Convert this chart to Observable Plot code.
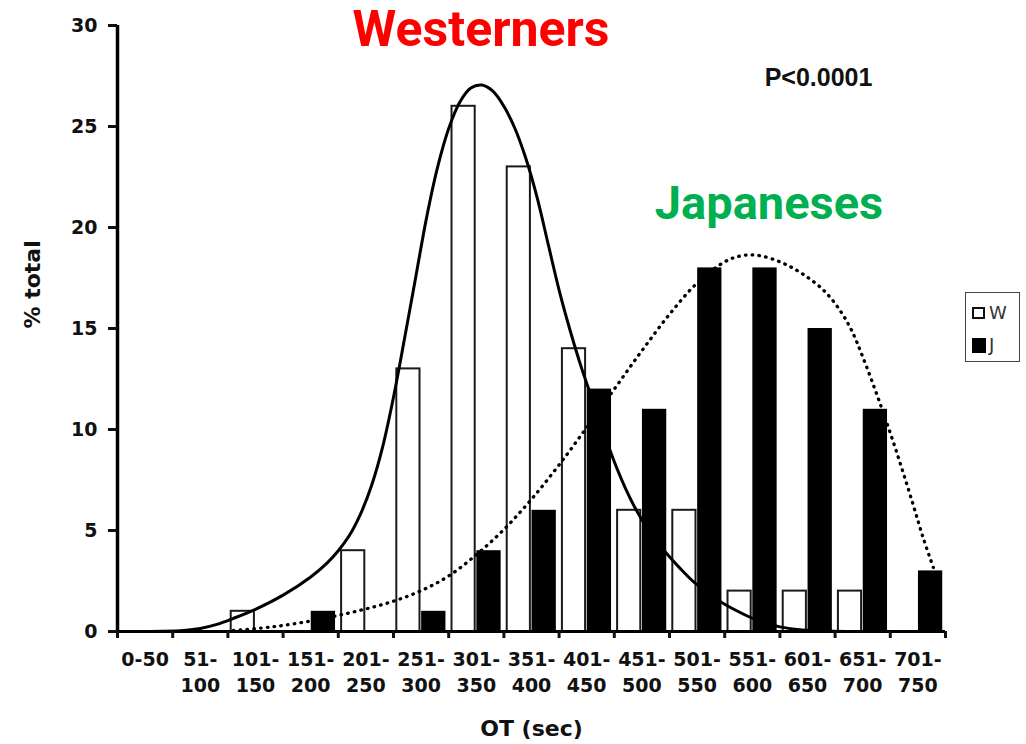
<!DOCTYPE html>
<html>
<head>
<meta charset="utf-8">
<script src="https://cdn.jsdelivr.net/npm/d3@7"></script>
<script src="https://cdn.jsdelivr.net/npm/@observablehq/plot@0.6"></script>
<style>
  html, body { margin: 0; padding: 0; background: #fff; }
  #wrap { position: relative; width: 1026px; height: 744px; }
  #legend { position: absolute; left: 965px; top: 292px; width: 53px; height: 68px;
            border: 1.5px solid #444; font-family: "DejaVu Sans", sans-serif; color: #333; }
  #legend .sw { position: absolute; left: 6px; box-sizing: border-box; }
  #legend .lb { position: absolute; left: 23px; font-size: 18px; line-height: 18px; }
</style>
</head>
<body>
<div id="wrap"></div>
<script>
// ---- data ----
const binLabels = ["0-50","51-100","101-150","151-200","201-250","251-300","301-350","351-400",
                   "401-450","451-500","501-550","551-600","601-650","651-700","701-750"];
const westerners = [0,0,1,0,4,13,26,23,14,6,6,2,2,2,0];
const japaneses  = [0,0,0,1,0,1,4,6,12,11,18,18,15,11,3];

// fitted curves (OT in seconds, % total)
const westCurveSec = [10,40,60,75,90,105,125,150,175,190,200,210,220,230,240,250,260,270,280,290,300,310,320,330,340,350,360,370,380,390,400,410,420,430,440,450,460,470,480,490,500,510,520,530,540,550,560,570,580,590,600,620,640,680];
const westCurvePct = [0,0.01,0.05,0.15,0.35,0.65,1.1,1.8,2.7,3.4,4.0,4.75,5.8,7.2,9.1,11.6,14.5,17.5,20.5,23.0,24.9,26.2,26.9,27.05,26.75,26.0,24.9,23.4,21.5,19.2,16.9,14.9,13.1,11.5,9.9,8.4,7.1,6.0,5.1,4.35,3.7,3.1,2.55,2.1,1.7,1.35,1.05,0.78,0.55,0.37,0.23,0.08,0.03,0];
const japCurveSec = [105,130,150,175,200,225,250,275,300,325,350,375,400,425,450,475,500,525,550,565,580,600,620,640,655,665,675,690,705,720,730,739];
const japCurvePct = [0.05,0.17,0.3,0.52,0.8,1.12,1.5,2.02,2.75,3.8,5.05,6.55,8.25,10.1,12.0,13.9,15.7,17.25,18.3,18.6,18.62,18.3,17.72,16.87,15.85,14.9,13.6,11.4,9.0,6.4,4.6,3.17];

const yTicks = [0,5,10,15,20,25,30];
const xTickLabels = binLabels.map(l => l === "0-50" ? l : l.replace("-", "-\n"));
const binWidth = 50;

// ---- build tables ----
const bars = binLabels.flatMap((label, i) => [
  {bin: i, group: "W", value: westerners[i]},
  {bin: i, group: "J", value: japaneses[i]}
]).filter(d => d.value > 0);
const westCurve = westCurveSec.map((s, i) => ({s, p: westCurvePct[i]}));
const japCurve = japCurveSec.map((s, i) => ({s, p: japCurvePct[i]}));
const boundaries = d3.range(binLabels.length + 1).map(i => i * binWidth);
const centers = binLabels.map((_, i) => i * binWidth + binWidth / 2);

const axisFont = "DejaVu Sans";

const chart = Plot.plot({
  width: 1026,
  height: 744,
  marginLeft: 117,
  marginRight: 81,
  marginTop: 25,
  marginBottom: 113,
  x: {type: "linear", domain: [0, binWidth * binLabels.length], axis: null},
  y: {domain: [0, 30], axis: null},
  style: {fontFamily: axisFont, fontWeight: "bold", fontSize: "19px", color: "#111", background: "#fff"},
  marks: [
    // Westerners bars (outlined)
    Plot.rectY(bars.filter(d => d.group === "W"), {
      x1: d => d.bin * binWidth + 3, x2: d => d.bin * binWidth + 24,
      y1: 0, y2: "value", fill: "white", stroke: "#1a1a1a", strokeWidth: 2
    }),
    // Japanese bars (solid)
    Plot.rectY(bars.filter(d => d.group === "J"), {
      x1: d => d.bin * binWidth + 25.5, x2: d => d.bin * binWidth + 47.5,
      y1: 0, y2: "value", fill: "black"
    }),
    // curves
    Plot.line(westCurve, {x: "s", y: "p", curve: "catmull-rom", stroke: "black", strokeWidth: 3}),
    Plot.line(japCurve, {x: "s", y: "p", curve: "catmull-rom", stroke: "black", strokeWidth: 3.3,
                         strokeDasharray: "0.6,6.2", strokeLinecap: "round"}),
    // axes lines
    Plot.ruleX([0], {y1: 0, y2: 30, stroke: "black", strokeWidth: 3.5}),
    Plot.ruleY([0], {x1: 0, x2: binWidth * binLabels.length, stroke: "black", strokeWidth: 3}),
    Plot.axisY({ticks: yTicks, tickSize: 9, tickPadding: 11, strokeWidth: 3, label: null,
                fontSize: 19, fontFamily: axisFont, fontWeight: "bold"}),
    Plot.axisX({ticks: boundaries, tickSize: 7, strokeWidth: 3, tickFormat: () => "", label: null}),
    Plot.axisX({ticks: centers, tickSize: 0, tickPadding: 16, label: null, lineHeight: 1.37,
                fontSize: 19, fontFamily: axisFont, fontWeight: "bold",
                tickFormat: d => xTickLabels[Math.round((d - binWidth / 2) / binWidth)]}),
    // axis titles
    Plot.text(["OT (sec)"], {frameAnchor: "bottom", dy: 104, lineAnchor: "bottom",
      fontSize: 22, fontFamily: axisFont, fontWeight: "bold", fill: "#111"}),
    Plot.text(["% total"], {frameAnchor: "left", dx: -78, rotate: -90, lineAnchor: "bottom",
      fontSize: 22, fontFamily: axisFont, fontWeight: "bold", fill: "#111"}),
    // annotations
    Plot.text(["Westerners"], {frameAnchor: "top", dx: -50.5, dy: 20, lineAnchor: "bottom",
      fontSize: 50, fontFamily: "Roboto", fontWeight: "bold", fill: "#ff0000"}),
    Plot.text(["Japaneses"], {frameAnchor: "top", dx: 237.5, dy: 193, lineAnchor: "bottom",
      fontSize: 47, fontFamily: "Roboto", fontWeight: "bold", fill: "#00b050"}),
    Plot.text(["P<0.0001"], {frameAnchor: "top", dx: 287, dy: 60, lineAnchor: "bottom",
      fontSize: 25, fontFamily: "Liberation Sans", fontWeight: "bold", fill: "#111"})
  ]
});

const wrap = document.getElementById("wrap");
wrap.appendChild(chart);

// legend
const legend = document.createElement("div");
legend.id = "legend";
legend.innerHTML =
  '<div class="sw" style="top:14px;width:13px;height:12px;border:2.5px solid #111;background:#fff"></div>' +
  '<div class="lb" style="top:11px">W</div>' +
  '<div class="sw" style="top:45px;width:14px;height:15px;background:#000"></div>' +
  '<div class="lb" style="top:43px">J</div>';
wrap.appendChild(legend);
</script>
</body>
</html>
